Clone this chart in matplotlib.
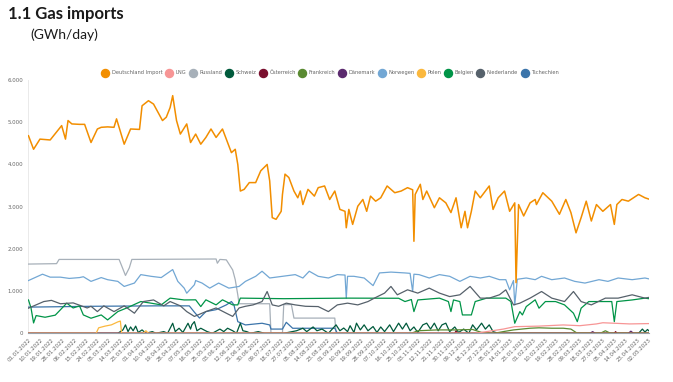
import matplotlib
matplotlib.use("Agg")
import matplotlib.pyplot as plt
from matplotlib.lines import Line2D
from matplotlib.ticker import FuncFormatter
import pandas as pd

START = pd.Timestamp("2022-01-01")

# values: (day offset from 01.01.2022, GWh/day)
de_days = [0, 4, 9, 17, 26, 29, 31, 34, 40, 44, 49, 54, 57, 62, 67, 69, 75, 80, 87, 89,
           94, 98, 105, 108, 111, 113, 116, 119, 124, 127, 131, 135, 139, 143, 147, 152, 155, 159, 162, 164,
           166, 169, 173, 178, 182, 187, 189, 191, 194, 198, 199, 201, 204, 208, 211, 213, 215, 219, 224, 227,
           232, 236, 240, 244, 248, 249, 251, 254, 258, 262, 265, 268, 272, 276, 281, 287, 292, 297, 301, 302,
           303, 307, 309, 312, 318, 322, 327, 331, 335, 339, 342, 344, 347, 350, 354, 361, 364, 368, 373, 377,
           381, 382, 384, 388, 393, 397, 398, 403, 410, 416, 421, 425, 429, 433, 437, 441, 445, 450, 456, 459,
           461, 465, 470, 478, 483, 486]
de_vals = [4680, 4360, 4600, 4580, 4920, 4600, 5040, 4960, 4950, 4950, 4520, 4840, 4880, 4890, 4880, 5080, 4480, 4840, 4830, 5390,
           5510, 5430, 5040, 5120, 5350, 5630, 5040, 4720, 4960, 4520, 4720, 4480, 4640, 4840, 4640, 4840, 4600, 4280, 4360, 4000,
           3370, 3410, 3570, 3570, 3850, 4000, 3610, 2740, 2700, 2890, 3290, 3770, 3690, 3370, 3210, 3370, 3050, 3410, 3250, 3450,
           3490, 3170, 3370, 2935, 2890, 2500, 2935, 2580, 3010, 3170, 2890, 3250, 3130, 3210, 3490, 3330, 3370, 3450, 3400, 2180,
           3290, 3530, 3170, 3370, 2975, 3210, 3090, 2860, 3210, 2500, 2890, 2500, 2890, 3370, 3210, 3490, 2935, 3210, 3370, 2890,
           3090, 1200, 3050, 2780, 3090, 3170, 3050, 3330, 3130, 2820, 3170, 2860, 2380, 2740, 3130, 2660, 3050, 2890, 3050, 2580,
           3050, 3170, 3130, 3290, 3210, 3180]

lng_days = [0, 350, 359, 372, 381, 400, 419, 432, 445, 450, 471, 486]
lng_vals = [0, 0, 40, 100, 157, 170, 198, 180, 222, 250, 222, 230]

ru_days = [0, 22, 24, 71, 73, 76, 79, 81, 147, 148, 150, 155, 160, 162, 164, 165, 189, 190, 199, 200,
           206, 208, 240, 241, 486]
ru_vals = [1640, 1650, 1750, 1750, 1600, 1370, 1550, 1750, 1760, 1660, 1750, 1740, 1500, 1270, 910, 700, 700, 0, 0, 680,
           680, 360, 360, 0, 0]

ch_days = [0, 70, 74, 76, 78, 80, 82, 84, 86, 89, 92, 97, 100, 106, 109, 113, 115, 118, 121, 125,
           127, 128, 130, 132, 135, 140, 144, 150, 153, 156, 160, 163, 166, 168, 171, 174, 180, 185, 200, 210,
           215, 218, 223, 226, 230, 235, 241, 244, 247, 250, 252, 255, 257, 260, 263, 266, 270, 273, 276, 279,
           283, 286, 290, 293, 296, 299, 302, 305, 309, 312, 315, 318, 321, 324, 327, 330, 334, 337, 341, 345,
           348, 351, 355, 358, 361, 364, 368, 478, 481, 483, 485, 486]
ch_vals = [0, 0, 80, 200, 40, 150, 60, 170, 20, 80, 0, 40, 0, 40, 0, 238, 40, 120, 20, 238,
           100, 200, 276, 60, 120, 40, 0, 100, 40, 120, 60, 0, 238, 60, 40, 0, 40, 0, 0, 60,
           120, 40, 150, 60, 100, 0, 200, 60, 125, 40, 180, 20, 240, 80, 200, 60, 160, 20, 150, 40,
           200, 40, 240, 100, 240, 60, 150, 20, 200, 240, 100, 240, 60, 200, 240, 40, 150, 20, 100, 0,
           200, 80, 240, 100, 200, 40, 0, 0, 100, 30, 90, 60]

at_days = [0, 334, 335, 336, 459, 460, 461, 486]
at_vals = [0, 0, 60, 0, 0, 40, 0, 0]

fr_days = [0, 300, 305, 320, 335, 348, 355, 365, 372, 380, 393, 400, 410, 419, 425, 430, 448, 452, 456, 486]
fr_vals = [0, 0, 60, 80, 80, 90, 20, 0, 40, 80, 120, 130, 120, 120, 100, 0, 0, 60, 0, 0]

dk_days = [0, 440, 442, 444, 470, 472, 474, 486]
dk_vals = [0, 0, 40, 0, 0, 50, 0, 0]

no_days = [0, 11, 17, 25, 32, 40, 43, 49, 57, 62, 70, 75, 83, 88, 96, 104, 113, 117, 122, 124,
           130, 131, 136, 142, 149, 157, 165, 170, 178, 183, 189, 199, 209, 215, 220, 227, 235, 242, 248, 249,
           250, 255, 263, 270, 275, 284, 295, 299, 301, 302, 306, 314, 322, 330, 338, 346, 354, 361, 369, 374,
           377, 380, 381, 383, 390, 397, 402, 410, 420, 428, 436, 447, 454, 462, 473, 483, 486]
no_vals = [1250, 1400, 1330, 1330, 1300, 1320, 1340, 1230, 1320, 1270, 1230, 1110, 1190, 1390, 1350, 1320, 1510, 1230, 1070, 950,
           1150, 1250, 1190, 1070, 1190, 1070, 1110, 1230, 1350, 1470, 1310, 1350, 1390, 1310, 1470, 1350, 1310, 1390, 1380, 830,
           1350, 1350, 1310, 1130, 1430, 1450, 1430, 1420, 990, 1400, 1390, 1310, 1390, 1350, 1230, 1350, 1310, 1350, 1270, 1270,
           1030, 1250, 670, 1280, 1310, 1270, 1350, 1270, 1310, 1230, 1190, 1270, 1230, 1310, 1270, 1310, 1290]

pl_days = [0, 53, 55, 60, 65, 70, 72, 73, 90, 92, 94, 486]
pl_vals = [0, 0, 130, 170, 200, 270, 290, 0, 0, 60, 0, 0]

be_days = [0, 2, 4, 6, 13, 21, 30, 35, 40, 43, 49, 57, 62, 70, 77, 88, 96, 104, 111, 122,
           131, 135, 139, 147, 152, 160, 164, 166, 200, 250, 290, 295, 300, 302, 305, 322, 329, 331, 333, 338,
           340, 347, 350, 359, 374, 378, 381, 385, 387, 390, 397, 400, 405, 413, 420, 427, 430, 433, 439, 457,
           459, 461, 473, 483, 486]
be_vals = [790, 600, 245, 420, 380, 430, 714, 600, 650, 435, 357, 435, 317, 514, 600, 752, 714, 673, 833, 790,
           793, 633, 793, 673, 793, 673, 673, 833, 820, 833, 830, 752, 800, 514, 790, 833, 752, 514, 790, 752,
           435, 435, 752, 833, 833, 752, 238, 514, 435, 633, 793, 595, 752, 752, 673, 476, 276, 595, 752, 752,
           276, 752, 790, 833, 820]

nl_days = [0, 12, 18, 25, 35, 46, 49, 54, 59, 67, 75, 83, 90, 98, 106, 111, 119, 124, 130, 139,
           147, 155, 160, 165, 170, 176, 183, 187, 191, 196, 202, 209, 217, 227, 235, 242, 250, 258, 266, 271,
           279, 284, 289, 297, 305, 314, 322, 330, 338, 346, 354, 361, 369, 374, 380, 385, 393, 402, 410, 420,
           427, 433, 441, 452, 462, 473, 483, 486]
nl_vals = [595, 752, 780, 700, 720, 600, 640, 514, 650, 514, 650, 476, 752, 790, 650, 752, 650, 514, 400, 514,
           600, 476, 400, 600, 640, 673, 752, 990, 673, 640, 714, 673, 640, 633, 514, 673, 714, 673, 752, 833,
           952, 1110, 912, 1030, 952, 1070, 952, 870, 912, 1110, 833, 833, 912, 1030, 673, 714, 833, 990, 833, 752,
           990, 752, 673, 833, 833, 912, 833, 850]

cz_days = [0, 50, 100, 126, 130, 134, 139, 147, 155, 159, 161, 164, 170, 183, 189, 190, 199, 202, 207, 240,
           242, 486]
cz_vals = [620, 640, 650, 650, 500, 360, 514, 560, 673, 752, 673, 276, 198, 238, 198, 100, 100, 260, 119, 120,
           0, 0]

names = ["Deutschland Import", "LNG", "Russland", "Schweiz", "Österreich", "Frankreich",
         "Dänemark", "Norwegen", "Polen", "Belgien", "Niederlande", "Tschechien"]
colors = ["#f28e00", "#f79595", "#a7b0b9", "#005a3c", "#7a0f2e", "#5a8a32",
          "#5b2a6e", "#72a7d4", "#fbb83d", "#009447", "#56616b", "#3b74aa"]
series = [(de_days, de_vals), (lng_days, lng_vals), (ru_days, ru_vals), (ch_days, ch_vals),
          (at_days, at_vals), (fr_days, fr_vals), (dk_days, dk_vals), (no_days, no_vals),
          (pl_days, pl_vals), (be_days, be_vals), (nl_days, nl_vals), (cz_days, cz_vals)]
zorders = [12, 13, 3, 4, 5, 6, 7, 8, 9, 10, 11, 3]

fig = plt.figure(figsize=(6.73, 3.82), dpi=100)
ax = fig.add_axes([0.0423, 0.1275, 0.9217, 0.663])

for name, col, (d, v), z in zip(names, colors, series, zorders):
    x = START + pd.to_timedelta(d, unit="D")
    lw = 1.1 if name == "Deutschland Import" else 0.9
    ax.plot(x, v, color=col, lw=lw, zorder=z)

ax.set_ylim(0, 6000)
ax.set_xlim(START, START + pd.Timedelta(days=486))
ax.set_yticks(range(0, 6001, 1000))
ax.yaxis.set_major_formatter(FuncFormatter(lambda v, p: f"{int(v):,}".replace(",", ".")))
ticks = pd.date_range(START, periods=55, freq="9D")
ax.set_xticks(ticks)
ax.set_xticklabels([t.strftime("%d.%m.%Y") for t in ticks], rotation=45, ha="right",
                   rotation_mode="anchor")
ax.tick_params(axis="both", length=0, labelsize=3.9, labelcolor="#666666")
ax.tick_params(axis="x", pad=3)
ax.tick_params(axis="y", pad=4)
for s in ["top", "right"]:
    ax.spines[s].set_visible(False)
ax.spines["left"].set_color("#e6e6e6")
ax.spines["left"].set_linewidth(0.6)
ax.spines["bottom"].set_color("#9aa3ab")

handles = [Line2D([], [], ls="none", marker="o", markersize=5.8, color=c) for c in colors]
fig.legend(handles, names, loc="center", bbox_to_anchor=(0.49, 0.809), ncol=12, frameon=False,
           fontsize=3.7, labelcolor="#666666", handletextpad=0.3, columnspacing=0.3,
           handlelength=1.95, borderaxespad=0)

fig.text(0.012, 0.985, "1.1 Gas imports", fontsize=12, fontweight="bold", va="top",
         family="Lato", color="#1a1a1a")
fig.text(0.045, 0.925, "(GWh/day)", fontsize=10, va="top", family="Lato", color="#1a1a1a")

fig.savefig("out.png", dpi=100)
